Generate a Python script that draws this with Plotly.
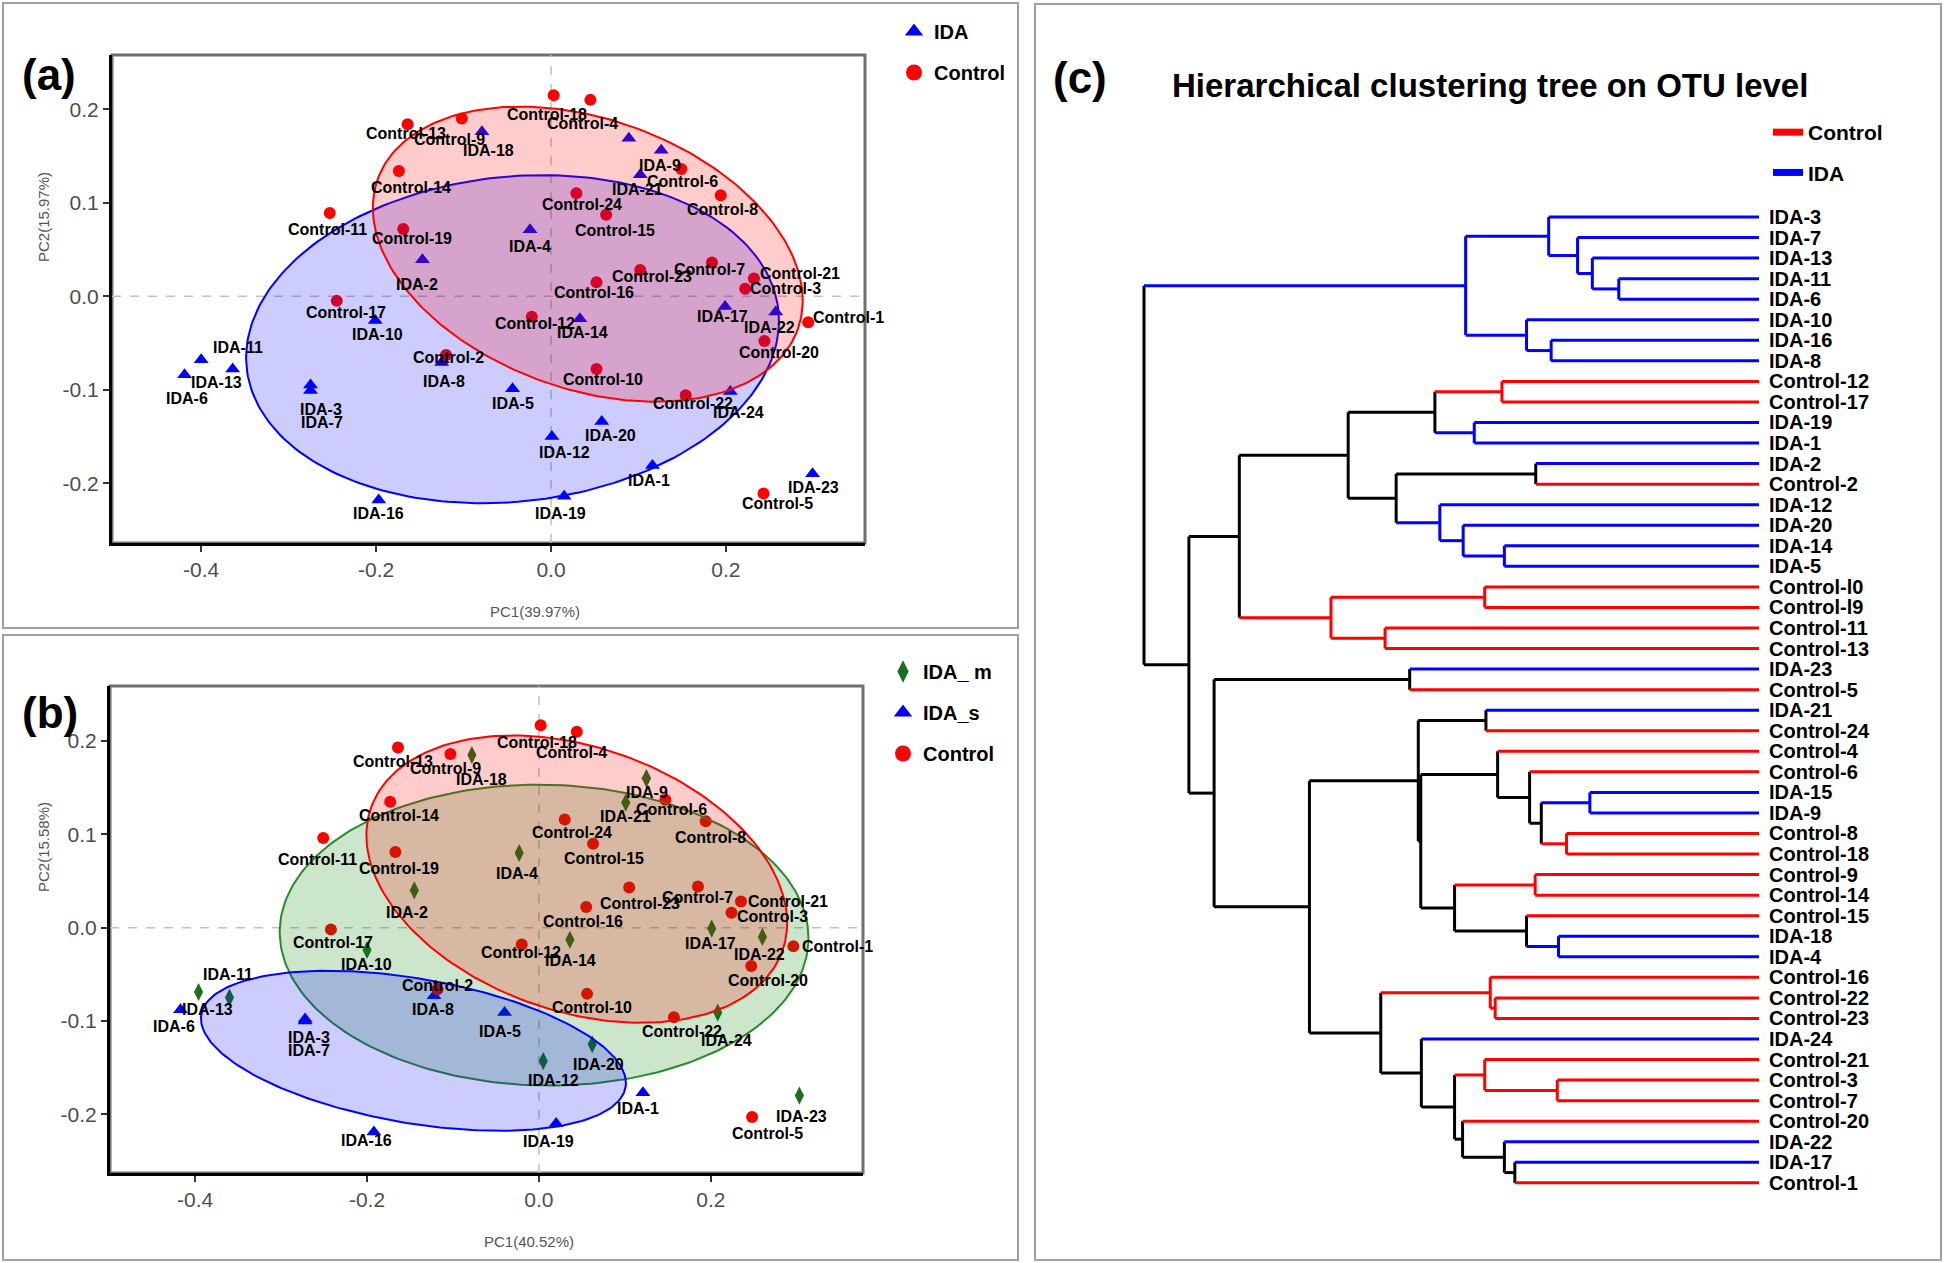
import numpy as np
import plotly.graph_objects as go

W, H = 1946, 1263
FONT = "Liberation Sans, Arial, sans-serif"

# ---------------- data: panel (a) PCA, IDA vs Control ----------------
CTRL_NAMES = [f"Control-{i}" for i in range(1, 25)]
CTRL_A_PC1 = [0.294, -0.120, 0.222, 0.045, 0.243, 0.149, 0.184, 0.194, -0.102, 0.052, -0.253, -0.022,
              -0.164, -0.174, 0.063, 0.052, -0.245, 0.003, -0.169, 0.244, 0.232, 0.154, 0.102, 0.029]
CTRL_A_PC2 = [-0.028, -0.063, 0.008, 0.210, -0.211, 0.136, 0.036, 0.108, 0.190, -0.078, 0.089, -0.022,
              0.184, 0.134, 0.087, 0.015, -0.005, 0.215, 0.072, -0.048, 0.019, -0.106, 0.028, 0.110]

IDA_NAMES = [f"IDA-{i}" for i in range(1, 25)]
IDA_A_PC1 = [0.116, -0.147, -0.275, -0.024, -0.044, -0.419, -0.275, -0.125, 0.126, -0.201, -0.400, 0.001,
             -0.364, 0.033, 0.089, -0.197, 0.199, -0.079, 0.015, 0.058, 0.102, 0.257, 0.299, 0.205]
IDA_A_PC2 = [-0.181, 0.039, -0.095, 0.071, -0.099, -0.084, -0.101, -0.071, 0.156, -0.026, -0.068, -0.150,
             -0.078, -0.024, 0.169, -0.218, -0.011, 0.176, -0.214, -0.134, 0.130, -0.017, -0.190, -0.102]

# ellipses: centre x, centre y, var x, var y, cov xy
ELL_A_CONTROL = [0.042, 0.045, 0.0604, 0.0249, -0.0122]
ELL_A_IDA = [-0.044, -0.046, 0.0928, 0.0308, 0.0060]

# ---------------- data: panel (b) PCA, IDA_m / IDA_s / Control ----------------
CTRL_B_PC1 = [0.296, -0.118, 0.224, 0.044, 0.248, 0.147, 0.185, 0.194, -0.103, 0.056, -0.251, -0.020,
              -0.164, -0.173, 0.063, 0.055, -0.242, 0.002, -0.167, 0.247, 0.235, 0.157, 0.105, 0.030]
CTRL_B_PC2 = [-0.020, -0.066, 0.016, 0.210, -0.203, 0.137, 0.044, 0.114, 0.186, -0.071, 0.096, -0.018,
              0.193, 0.135, 0.090, 0.022, -0.002, 0.217, 0.081, -0.041, 0.028, -0.096, 0.043, 0.116]

IDAM_NAMES = ["IDA-2", "IDA-4", "IDA-9", "IDA-10", "IDA-11", "IDA-12", "IDA-13", "IDA-14", "IDA-15",
              "IDA-17", "IDA-18", "IDA-20", "IDA-21", "IDA-22", "IDA-23", "IDA-24"]
IDAM_B_PC1 = [-0.145, -0.023, 0.125, -0.200, -0.396, 0.005, -0.360, 0.036, 0.125,
              0.201, -0.078, 0.062, 0.101, 0.260, 0.303, 0.208]
IDAM_B_PC2 = [0.040, 0.080, 0.160, -0.024, -0.069, -0.143, -0.075, -0.013, 0.160,
              -0.001, 0.185, -0.125, 0.134, -0.010, -0.180, -0.091]

IDAS_NAMES = ["IDA-1", "IDA-3", "IDA-5", "IDA-6", "IDA-7", "IDA-8", "IDA-16", "IDA-19"]
IDAS_B_PC1 = [0.121, -0.272, -0.040, -0.417, -0.272, -0.122, -0.192, 0.020]
IDAS_B_PC2 = [-0.177, -0.098, -0.091, -0.088, -0.100, -0.073, -0.219, -0.210]

ELL_B_CONTROL = [0.044, 0.052, 0.0599, 0.0237, -0.0115]
ELL_B_IDAM = [0.006, -0.008, 0.0946, 0.0260, -0.0010]
ELL_B_IDAS = [-0.146, -0.132, 0.0611, 0.00735, -0.00854]

X_TICKS = [-0.4, -0.2, 0.0, 0.2]
Y_TICKS = [-0.2, -0.1, 0.0, 0.1, 0.2]

# ---------------- data: panel (c) hierarchical clustering ----------------
# merge i joins MERGE_LEFT[i] and MERGE_RIGHT[i] (leaf name or earlier merge index) at MERGE_HEIGHT[i]
MERGE_LEFT = ["IDA-11", "IDA-13", "IDA-7", "IDA-3", "IDA-16", "IDA-10", 3,
              "Control-12", "IDA-19", 7, "IDA-2", "IDA-14", "IDA-20", "IDA-12", 10, 9,
              "Control-l0", "Control-11", 16, 15, "IDA-23", "IDA-21", "IDA-15", "Control-8", 22,
              "Control-6", "Control-4", "Control-9", "IDA-18", "Control-15", 27, 26, 21,
              "Control-22", "Control-16", "IDA-17", "IDA-22", "Control-20", "Control-3", "Control-21",
              39, "IDA-24", 34, 32, 20, 19, 6]
MERGE_RIGHT = ["IDA-6", 0, 1, 2, "IDA-8", 4, 5,
               "Control-17", "IDA-1", 8, "Control-2", "IDA-5", 11, 12, 13, 14,
               "Control-l9", "Control-13", 17, 18, "Control-5", "Control-24", "IDA-9", "Control-18", 23,
               24, 25, "Control-14", "IDA-4", 28, 29, 30, 31,
               "Control-23", 33, "Control-1", 35, 36, "Control-7", 38,
               37, 40, 41, 42, 43, 44, 45]
MERGE_HEIGHT = [0.228, 0.271, 0.295, 0.342, 0.338, 0.378, 0.477,
                0.418, 0.463, 0.527, 0.363, 0.414, 0.481, 0.519, 0.590, 0.668,
                0.446, 0.608, 0.696, 0.845, 0.568, 0.444, 0.275, 0.313, 0.354,
                0.373, 0.425, 0.364, 0.326, 0.378, 0.495, 0.550, 0.554,
                0.429, 0.437, 0.397, 0.414, 0.482, 0.328, 0.446,
                0.495, 0.549, 0.615, 0.731, 0.886, 0.927, 1.000]

# ---------------- styles ----------------
RED, BLUE, GREEN = "#FF0000", "#0000FF", "#1C6E1C"
HIDDEN_LABELS = {"IDA-15"}
# label offsets from the point (px right, px down)
SHIFT_A = {
    "Control-13": (-2, 9), "Control-9": (-12, 21), "IDA-18": (7, 19), "Control-14": (12, 17),
    "Control-11": (-2, 17), "Control-19": (9, 10), "IDA-2": (-5, 25), "Control-17": (9, 12),
    "Control-18": (-7, 19), "Control-4": (-8, 24), "IDA-9": (-1, 15), "IDA-21": (-3, 15),
    "Control-6": (1, 12), "Control-8": (2, 14), "Control-24": (6, 11), "Control-15": (9, 16),
    "IDA-4": (0, 17), "Control-7": (-2, 7), "Control-23": (12, 6), "Control-21": (46, -5),
    "Control-3": (40, 0), "Control-16": (-3, 10), "Control-1": (40, -5), "IDA-17": (-3, 10),
    "IDA-22": (-6, 15), "Control-12": (3, 7), "IDA-14": (3, 14), "Control-20": (15, 11),
    "Control-10": (6, 10), "IDA-5": (0, 15), "Control-22": (7, 8), "IDA-24": (8, 21),
    "IDA-20": (9, 14), "IDA-12": (13, 16), "IDA-1": (-3, 15), "IDA-19": (-4, 17),
    "IDA-23": (1, 14), "Control-5": (14, 10), "IDA-10": (2, 14), "IDA-11": (37, -12),
    "IDA-13": (-16, 13), "IDA-6": (2, 24), "IDA-3": (10, 24), "IDA-7": (11, 32),
    "Control-2": (2, 2), "IDA-8": (2, 19), "IDA-16": (0, 13),
}
SHIFT_B = {
    "Control-13": (-5, 14), "Control-9": (-5, 14), "IDA-18": (10, 24), "Control-14": (9, 14),
    "Control-11": (-6, 21), "Control-19": (4, 16), "IDA-2": (-7, 22), "Control-17": (2, 13),
    "Control-18": (-4, 17), "Control-4": (-5, 21), "IDA-9": (1, 14), "Control-6": (6, 10),
    "IDA-21": (0, 14), "Control-8": (5, 16), "Control-24": (7, 13), "Control-15": (11, 15),
    "IDA-4": (-2, 20), "Control-23": (11, 16), "Control-7": (0, 11), "Control-21": (47, 0),
    "Control-3": (41, 4), "Control-16": (-3, 14), "IDA-17": (-1, 15), "IDA-22": (-3, 18),
    "Control-1": (44, 0), "Control-12": (-1, 8), "IDA-14": (1, 21), "Control-20": (17, 15),
    "Control-10": (5, 14), "Control-22": (8, 14), "IDA-24": (9, 28), "IDA-20": (6, 20),
    "IDA-12": (10, 19), "IDA-1": (-5, 16), "IDA-19": (-8, 18), "IDA-23": (2, 21),
    "Control-5": (15, 16), "IDA-10": (-1, 14), "IDA-11": (29, -18), "IDA-13": (-22, 12),
    "IDA-6": (-6, 17), "IDA-3": (4, 18), "IDA-7": (4, 30), "Control-2": (0, -4),
    "IDA-8": (-1, 14), "IDA-5": (-5, 19), "IDA-16": (-7, 9),
}


def px_x(p):
    return p / W


def px_y(p):
    return 1 - p / H


def ellipse(params, n=240):
    cx, cy, sxx, syy, sxy = params
    L = np.linalg.cholesky(np.array([[sxx, sxy], [sxy, syy]]))
    t = np.linspace(0, 2 * np.pi, n)
    pts = L @ np.vstack([np.cos(t), np.sin(t)])
    return cx + pts[0], cy + pts[1]


fig = go.Figure()


def add_points(xs, ys, symbol, color, size, xa, ya):
    fig.add_trace(go.Scatter(x=xs, y=ys, mode="markers", xaxis=xa, yaxis=ya, showlegend=False,
                             marker=dict(symbol=symbol, color=color, size=size, line=dict(width=0)),
                             hoverinfo="skip"))


def add_ellipse(params, color, fill, xa, ya):
    ex, ey = ellipse(params)
    fig.add_trace(go.Scatter(x=ex, y=ey, mode="lines", fill="toself", fillcolor=fill,
                             line=dict(color=color, width=2), xaxis=xa, yaxis=ya,
                             showlegend=False, hoverinfo="skip"))


def add_labels(names, xs, ys, shifts, xa, ya):
    for n, x, y in zip(names, xs, ys):
        if n in HIDDEN_LABELS:
            continue
        dx, dy = shifts.get(n, (0, 14))
        fig.add_annotation(x=x, y=y, xref=xa, yref=ya, text=n, showarrow=False,
                           xshift=dx, yshift=-dy, xanchor="center", yanchor="middle",
                           font=dict(family=FONT, size=16, color="black", weight="bold"))


def add_legend_proxy(name, legend, group, **kw):
    fig.add_trace(go.Scatter(x=[None], y=[None], name=name, legend=legend, legendgroup=group,
                             showlegend=True, **kw))


# ---- panel (a) ----
add_points(IDA_A_PC1, IDA_A_PC2, "triangle-up", BLUE, 13, "x", "y")
add_points(CTRL_A_PC1, CTRL_A_PC2, "circle", RED, 12, "x", "y")
add_ellipse(ELL_A_IDA, BLUE, "rgba(0,0,255,0.2)", "x", "y")
add_ellipse(ELL_A_CONTROL, RED, "rgba(255,0,0,0.2)", "x", "y")
add_labels(IDA_NAMES, IDA_A_PC1, IDA_A_PC2, SHIFT_A, "x", "y")
add_labels(CTRL_NAMES, CTRL_A_PC1, CTRL_A_PC2, SHIFT_A, "x", "y")
add_legend_proxy("IDA", "legend", "a1", mode="markers",
                 marker=dict(symbol="triangle-up", color=BLUE, size=16))
add_legend_proxy("Control", "legend", "a2", mode="markers",
                 marker=dict(symbol="circle", color=RED, size=16))

# ---- panel (b) ----
add_points(IDAS_B_PC1, IDAS_B_PC2, "triangle-up", BLUE, 13, "x2", "y2")
add_points(IDAM_B_PC1, IDAM_B_PC2, "diamond-tall", GREEN, 13, "x2", "y2")
add_points(CTRL_B_PC1, CTRL_B_PC2, "circle", RED, 12, "x2", "y2")
add_ellipse(ELL_B_IDAM, "#2A8A2A", "rgba(0,128,0,0.2)", "x2", "y2")
add_ellipse(ELL_B_CONTROL, RED, "rgba(255,0,0,0.2)", "x2", "y2")
add_ellipse(ELL_B_IDAS, BLUE, "rgba(0,0,255,0.2)", "x2", "y2")
add_labels(IDAM_NAMES, IDAM_B_PC1, IDAM_B_PC2, SHIFT_B, "x2", "y2")
add_labels(IDAS_NAMES, IDAS_B_PC1, IDAS_B_PC2, SHIFT_B, "x2", "y2")
add_labels(CTRL_NAMES, CTRL_B_PC1, CTRL_B_PC2, SHIFT_B, "x2", "y2")
add_legend_proxy("IDA_ m", "legend2", "b1", mode="markers",
                 marker=dict(symbol="diamond-tall", color=GREEN, size=16))
add_legend_proxy("IDA_s", "legend2", "b2", mode="markers",
                 marker=dict(symbol="triangle-up", color=BLUE, size=16))
add_legend_proxy("Control", "legend2", "b3", mode="markers",
                 marker=dict(symbol="circle", color=RED, size=16))

# ---- panel (c) dendrogram ----
leaf_pos = {}


def walk(node):
    if isinstance(node, str):
        leaf_pos[node] = len(leaf_pos) + 1
        return
    walk(MERGE_LEFT[node])
    walk(MERGE_RIGHT[node])


walk(len(MERGE_HEIGHT) - 1)


def node_y(node):
    if isinstance(node, str):
        return leaf_pos[node]
    return (node_y(MERGE_LEFT[node]) + node_y(MERGE_RIGHT[node])) / 2


def node_h(node):
    return 0.0 if isinstance(node, str) else MERGE_HEIGHT[node]


def node_groups(node):
    if isinstance(node, str):
        return {"IDA" if node.startswith("IDA") else "Control"}
    return node_groups(MERGE_LEFT[node]) | node_groups(MERGE_RIGHT[node])


def node_color(node):
    g = node_groups(node)
    if g == {"IDA"}:
        return BLUE
    if g == {"Control"}:
        return RED
    return "black"


segs = {"black": ([], []), RED: ([], []), BLUE: ([], [])}
for i, h in enumerate(MERGE_HEIGHT):
    l, r = MERGE_LEFT[i], MERGE_RIGHT[i]
    sx, sy = segs[node_color(i)]
    sx += [h, h, None]
    sy += [node_y(l), node_y(r), None]
    for ch in (l, r):
        cx_, cy_ = segs[node_color(ch)]
        cx_ += [h, node_h(ch), None]
        cy_ += [node_y(ch), node_y(ch), None]

for col in ["black", RED, BLUE]:
    fig.add_trace(go.Scatter(x=segs[col][0], y=segs[col][1], mode="lines", xaxis="x3", yaxis="y3",
                             line=dict(color=col, width=3), showlegend=False, hoverinfo="skip"))

for name, pos in leaf_pos.items():
    fig.add_annotation(x=0, y=pos, xref="x3", yref="y3", text=name, showarrow=False,
                       xanchor="left", yanchor="middle", xshift=8,
                       font=dict(family=FONT, size=20, color="black", weight="bold"))

add_legend_proxy("Control", "legend3", "c1", mode="lines", line=dict(color=RED, width=7))
add_legend_proxy("IDA", "legend3", "c2", mode="lines", line=dict(color=BLUE, width=7))

# ---------------- axes ----------------
tick_font = dict(family=FONT, size=21, color="#4D4D4D")


def pca_axes(xdom, ydom, xr, yr):
    xa = dict(domain=[px_x(xdom[0]), px_x(xdom[1])], range=xr, tickvals=X_TICKS,
              ticktext=[f"{v:.1f}" for v in X_TICKS], ticks="outside", ticklen=6, tickwidth=2,
              tickcolor="#333333", showline=True, linecolor="black", linewidth=3,
              showgrid=False, zeroline=False, tickfont=tick_font, fixedrange=True)
    ya = dict(domain=[px_y(ydom[1]), px_y(ydom[0])], range=yr, tickvals=Y_TICKS,
              ticktext=[f"{v:.1f}" for v in Y_TICKS], ticks="outside", ticklen=6, tickwidth=2,
              tickcolor="#333333", showline=True, linecolor="black", linewidth=3,
              showgrid=False, zeroline=False, tickfont=tick_font, fixedrange=True)
    return xa, ya


xa1, ya1 = pca_axes((112, 865), (55, 543), [-0.502, 0.359], [-0.264, 0.258])
xa2, ya2 = pca_axes((110, 863), (686, 1173), [-0.499, 0.377], [-0.263, 0.259])
xa1["anchor"], ya1["anchor"] = "y", "x"
xa2["anchor"], ya2["anchor"] = "y2", "x2"

xa3 = dict(domain=[px_x(1128), px_x(1762)], range=[(1759 - 1128) / 615, (1759 - 1762) / 615],
           visible=False, anchor="y3", fixedrange=True)
ya3 = dict(domain=[px_y(1200), px_y(200)], range=[1 + (1200 - 217) / 20.55, 1 - (217 - 200) / 20.55],
           visible=False, anchor="x3", fixedrange=True)

shapes = []
# outer panel boxes
for x0, y0, x1, y1 in [(3, 3, 1018, 628), (3, 635, 1018, 1260), (1035, 4, 1941, 1260)]:
    shapes.append(dict(type="rect", xref="paper", yref="paper", x0=px_x(x0), x1=px_x(x1),
                       y0=px_y(y1), y1=px_y(y0), line=dict(color="#A0A0A0", width=2)))
# plot frames and dashed zero lines
for xr_, yr_ in [("x", "y"), ("x2", "y2")]:
    shapes.append(dict(type="rect", xref=f"{xr_} domain", yref=f"{yr_} domain", x0=0, x1=1, y0=0, y1=1,
                       line=dict(color="#707070", width=3), layer="below"))
    shapes.append(dict(type="line", xref=xr_, yref=f"{yr_} domain", x0=0, x1=0, y0=0, y1=1,
                       line=dict(color="#C0C0C0", width=1.5, dash="dash"), layer="below"))
    shapes.append(dict(type="line", xref=f"{xr_} domain", yref=yr_, x0=0, x1=1, y0=0, y1=0,
                       line=dict(color="#C0C0C0", width=1.5, dash="dash"), layer="below"))

annos = [
    dict(text="(a)", x=px_x(49), y=px_y(75), size=44),
    dict(text="(b)", x=px_x(50), y=px_y(712), size=44),
    dict(text="(c)", x=px_x(1080), y=px_y(78), size=44),
    dict(text="Hierarchical clustering tree on OTU level", x=px_x(1490), y=px_y(85), size=33),
]
for a in annos:
    fig.add_annotation(xref="paper", yref="paper", x=a["x"], y=a["y"], text=a["text"], showarrow=False,
                       xanchor="center", yanchor="middle",
                       font=dict(family=FONT, size=a["size"], color="black", weight="bold"))

axis_titles = [
    ("PC1(39.97%)", 535, 611, 0), ("PC2(15.97%)", 43, 217, -90),
    ("PC1(40.52%)", 529, 1241, 0), ("PC2(15.58%)", 43, 847, -90),
]
for t, x, y, ang in axis_titles:
    fig.add_annotation(xref="paper", yref="paper", x=px_x(x), y=px_y(y), text=t, showarrow=False,
                       textangle=ang, xanchor="center", yanchor="middle",
                       font=dict(family=FONT, size=15, color="#555555"))

legend_font = dict(family=FONT, size=20, color="black", weight="bold")
fig.update_layout(
    width=W, height=H,
    margin=dict(l=0, r=0, t=0, b=0),
    paper_bgcolor="white", plot_bgcolor="white",
    xaxis=xa1, yaxis=ya1, xaxis2=xa2, yaxis2=ya2, xaxis3=xa3, yaxis3=ya3,
    shapes=shapes,
    legend=dict(x=px_x(894), y=px_y(12), xanchor="left", yanchor="top", font=legend_font,
                bgcolor="rgba(0,0,0,0)", tracegroupgap=12, itemsizing="trace"),
    legend2=dict(x=px_x(883), y=px_y(652), xanchor="left", yanchor="top", font=legend_font,
                 bgcolor="rgba(0,0,0,0)", tracegroupgap=12, itemsizing="trace"),
    legend3=dict(x=px_x(1768), y=px_y(112), xanchor="left", yanchor="top",
                 font=dict(family=FONT, size=21, color="black", weight="bold"),
                 bgcolor="rgba(0,0,0,0)", tracegroupgap=10, itemsizing="trace"),
    hovermode=False,
)

# remove the default page margin so the figure sits at the top-left corner
fig.write_html("out.html", config={"displayModeBar": False},
               post_script="document.body.style.margin='0px';")
